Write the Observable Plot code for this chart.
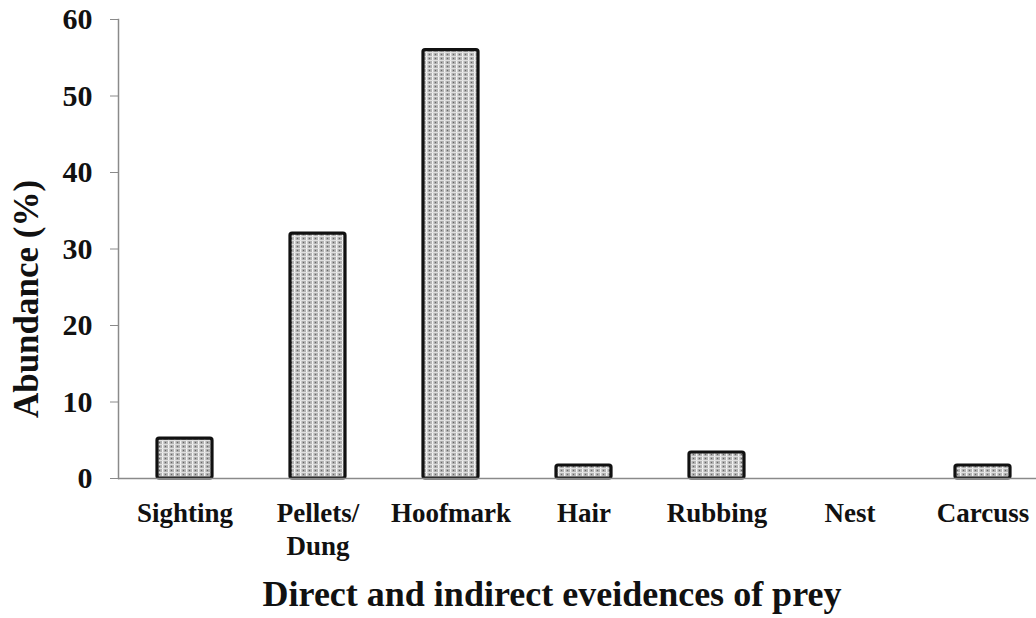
<!DOCTYPE html>
<html>
<head>
<meta charset="utf-8">
<script src="https://cdn.jsdelivr.net/npm/d3@7"></script>
<script src="https://cdn.jsdelivr.net/npm/@observablehq/plot@0.6"></script>
<style>
  html, body { margin: 0; padding: 0; background: #fff; overflow: hidden; }
  #chart svg { display: block; font-family: "Liberation Serif", "Times New Roman", serif; }
</style>
</head>
<body>
<div id="chart"></div>
<script>
const categories = ["Sighting", "Pellets/\nDung", "Hoofmark", "Hair", "Rubbing", "Nest", "Carcuss"];
const abundance = [5.2, 32, 56, 1.7, 3.4, 0, 1.7];
const yTicks = [0, 10, 20, 30, 40, 50, 60];
const xTitle = "Direct and indirect eveidences of prey";
const yTitle = "Abundance (%)";

const data = categories.map((c, i) => ({category: c, value: abundance[i]}));
const FONT = '"Liberation Serif", "Times New Roman", serif';

const chart = Plot.plot({
  width: 1036,
  height: 618,
  marginLeft: 118,
  marginRight: -13,
  marginTop: 19,
  marginBottom: 140,
  style: {fontFamily: FONT, background: "#fff", overflow: "visible"},
  x: {domain: categories, paddingInner: 0.586, paddingOuter: 0.293, label: null},
  y: {domain: [0, 60], label: null},
  marks: [
    Plot.barY(data, {
      x: "category", y: "value",
      fill: "url(#dotfill)", stroke: "#111", strokeWidth: 3.2,
      strokeLinejoin: "round", rx: 2
    }),
    Plot.ruleY([0], {stroke: "#8a8a8a", strokeWidth: 1.5}),
    Plot.frame({anchor: "left", stroke: "#8a8a8a", strokeWidth: 1.5}),
    Plot.axisY({
      ticks: yTicks, tickSize: 8, tickPadding: 18, stroke: "#8a8a8a",
      fontSize: 30, fontWeight: "bold", fill: "#111", label: null
    }),
    Plot.axisX({
      tickSize: 0, tickPadding: 20, fontSize: 27, fontWeight: "bold",
      fill: "#111", lineHeight: 1.22, label: null
    }),
    Plot.text([xTitle], {
      frameAnchor: "bottom", dx: -32, dy: 116, lineAnchor: "middle",
      fontSize: 36, fontWeight: "bold", fill: "#111"
    }),
    Plot.text([yTitle], {
      frameAnchor: "left", dx: -92, dy: 50, rotate: -90,
      textAnchor: "middle", lineAnchor: "middle",
      fontSize: 35, fontWeight: "bold", fill: "#111"
    })
  ]
});

// pattern definition for the dotted grey fill
const svg = d3.select(chart);
const defs = svg.insert("defs", ":first-child");
const pat = defs.append("pattern")
  .attr("id", "dotfill").attr("patternUnits", "userSpaceOnUse")
  .attr("width", 6).attr("height", 4);
pat.append("rect").attr("width", 6).attr("height", 4).attr("fill", "#b4b4b4");
pat.append("rect").attr("x", 0).attr("width", 1.4).attr("height", 4).attr("fill", "#f4f4f4");
pat.append("rect").attr("y", 0).attr("width", 6).attr("height", 1).attr("fill", "#e0e0e0");
pat.append("circle").attr("cx", 3.5).attr("cy", 2.5).attr("r", 0.7).attr("fill", "#666");

document.getElementById("chart").appendChild(chart);
</script>
</body>
</html>
